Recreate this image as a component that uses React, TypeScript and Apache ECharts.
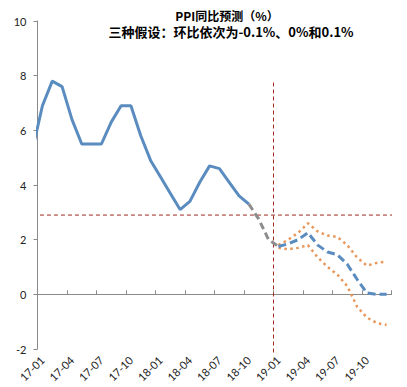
import React, { useEffect, useRef } from "react";
import * as echarts from "echarts";

// Month list; '16-12' only feeds the clipped start of the actual line
const months = [
  "16-12",
  "17-01", "17-02", "17-03", "17-04", "17-05", "17-06", "17-07", "17-08", "17-09", "17-10", "17-11", "17-12",
  "18-01", "18-02", "18-03", "18-04", "18-05", "18-06", "18-07", "18-08", "18-09", "18-10", "18-11", "18-12",
  "19-01", "19-02", "19-03", "19-04", "19-05", "19-06", "19-07", "19-08", "19-09", "19-10", "19-11", "19-12",
];
const axisMonths = months.slice(1);

// Actual PPI yoy, 16-12 .. 18-10
const actualStart = "16-12";
const actualValues = [5.3, 6.9, 7.8, 7.6, 6.4, 5.5, 5.5, 5.5, 6.3, 6.9, 6.9, 5.8, 4.9, 4.3, 3.7, 3.1, 3.4, 4.1, 4.7, 4.6, 4.1, 3.6, 3.3];

// Bridge, 18-10 .. 19-01
const bridgeStart = "18-10";
const bridgeValues = [3.3, 2.75, 2.0, 1.75];

// Forecasts, 19-01 .. 19-12
const forecastStart = "19-01";
const baseValues = [1.75, 1.85, 2.0, 2.25, 1.8, 1.55, 1.45, 1.1, 0.55, 0.05, 0.0, 0.0];
const upperValues = [1.8, 2.0, 2.25, 2.6, 2.3, 2.15, 2.1, 1.8, 1.35, 1.05, 1.15, 1.2];
const lowerValues = [1.7, 1.65, 1.7, 1.8, 1.35, 1.0, 0.72, 0.3, -0.45, -0.85, -1.05, -1.12];

// Reference lines
const thresholdValue = 2.9;
const splitMonthBoundary = 24; // boundary between 18-12 and 19-01
const splitLineRange = [7.75, -2.15];

const pos = (m: string) => months.indexOf(m) - 0.5;
const toPoints = (start: string, vals: number[]) => {
  const s = pos(start);
  return vals.map((v, i) => [s + i, v]);
};

export default function App() {
  const ref = useRef<HTMLDivElement>(null);
  useEffect(() => {
    if (!ref.current) return;
    const chart = echarts.init(ref.current, null, { renderer: "svg" });
    const red = "#9e2a22";
    const blue = "#5b8cc0";
    const orange = "#e8965a";
    chart.setOption({
      animation: false,
      backgroundColor: "#ffffff",
      title: [
        {
          text: "PPI同比预测（%）",
          left: 222,
          textAlign: "center",
          top: 4,
          textStyle: { fontFamily: "Noto Sans CJK SC", fontWeight: "bold", fontSize: 12, color: "#000" },
        },
        {
          text: "三种假设：环比依次为-0.1%、0%和0.1%",
          left: 226,
          textAlign: "center",
          top: 20,
          textStyle: { fontFamily: "Noto Sans CJK SC", fontWeight: "bold", fontSize: 13, color: "#000" },
        },
      ],
      grid: { left: 37.5, right: 15.5, top: 21, bottom: 38, containLabel: false },
      xAxis: [
        {
          type: "value",
          min: 0,
          max: 36,
          interval: 3,
          axisLine: { onZero: true, lineStyle: { color: "#8a8a8a", width: 1 } },
          axisTick: { show: true, inside: true, length: 4, lineStyle: { color: "#8a8a8a" } },
          axisLabel: { show: false },
          splitLine: { show: false },
        },
        {
          type: "category",
          data: axisMonths,
          position: "bottom",
          boundaryGap: true,
          axisLine: { show: false, onZero: false },
          axisTick: { show: false },
          splitLine: { show: false },
          axisLabel: {
            interval: 2,
            rotate: 45,
            margin: 9,
            fontFamily: "Lato",
            fontSize: 11,
            color: "#222",
          },
        },
      ],
      yAxis: {
        type: "value",
        min: -2,
        max: 10,
        interval: 2,
        axisLine: { show: true, lineStyle: { color: "#8a8a8a", width: 1 } },
        axisTick: { show: true, inside: false, length: 4, lineStyle: { color: "#8a8a8a" } },
        axisLabel: { margin: 11, fontFamily: "Lato", fontSize: 11, color: "#222" },
        splitLine: { show: false },
      },
      series: [
        {
          type: "line",
          xAxisIndex: 0,
          data: [[0.25, thresholdValue], [36.75, thresholdValue]],
          clip: false,
          symbol: "none",
          lineStyle: { color: red, width: 1, type: [4, 3] },
          z: 1,
        },
        {
          type: "line",
          xAxisIndex: 0,
          data: [[splitMonthBoundary, splitLineRange[0]], [splitMonthBoundary, splitLineRange[1]]],
          clip: false,
          symbol: "none",
          lineStyle: { color: red, width: 1, type: [4, 3] },
          z: 1,
        },
        {
          type: "line",
          xAxisIndex: 0,
          data: toPoints(actualStart, actualValues),
          symbol: "none",
          clip: true,
          lineStyle: { color: blue, width: 3 },
          z: 3,
        },
        {
          type: "line",
          xAxisIndex: 0,
          data: toPoints(bridgeStart, bridgeValues),
          symbol: "none",
          lineStyle: { color: "#8e8c8c", width: 3, type: [7, 4] },
          z: 3,
        },
        {
          type: "line",
          xAxisIndex: 0,
          data: toPoints(forecastStart, upperValues),
          symbol: "none",
          lineStyle: { color: orange, width: 2.5, type: [2.5, 3.5] },
          z: 2,
        },
        {
          type: "line",
          xAxisIndex: 0,
          data: toPoints(forecastStart, lowerValues),
          symbol: "none",
          lineStyle: { color: orange, width: 2.5, type: [2.5, 3.5] },
          z: 2,
        },
        {
          type: "line",
          xAxisIndex: 0,
          data: toPoints(forecastStart, baseValues),
          symbol: "none",
          lineStyle: { color: blue, width: 3, type: [8, 4] },
          z: 3,
        },
      ],
    });
    return () => chart.dispose();
  }, []);
  return (
    <div
      ref={ref}
      style={{ position: "fixed", left: 0, top: 0, width: 407, height: 387, background: "#fff" }}
    />
  );
}
